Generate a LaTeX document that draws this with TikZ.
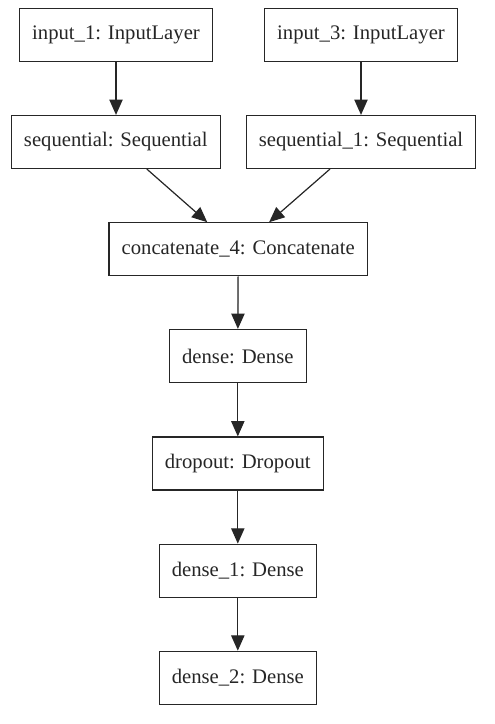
\documentclass[tikz,border=0pt]{standalone}
\usepackage{fontspec}
\setmainfont{Liberation Serif}
\usetikzlibrary{arrows.meta}

\begin{document}
\begin{tikzpicture}[x=0.75pt,y=-0.75pt,
      layer/.style={draw=black!85,line width=0.9pt,minimum height=39.75pt,inner xsep=9.5pt,
        text=black!85,font=\fontsize{15.5}{18}\selectfont},
      conn/.style={-{Triangle[length=11.5pt,width=10pt]},line width=0.9pt,draw=black!85,fill=black!85}]
      \useasboundingbox (0,0) rectangle (494,724);
      \node[layer] (in1) at (116,35) {input\_1: InputLayer};
      \node[layer] (in3) at (361,35) {input\_3: InputLayer};
      \node[layer] (seq) at (115.8,142) {sequential: Sequential};
      \node[layer] (seq1) at (361,142) {sequential\_1: Sequential};
      \node[layer] (cat) at (238.2,249.3) {concatenate\_4: Concatenate};
      \node[layer] (d0) at (237.8,356) {dense: Dense};
      \node[layer] (drop) at (237.8,463.5) {dropout: Dropout};
      \node[layer] (d1) at (237.8,570.7) {dense\_1: Dense};
      \node[layer] (d2) at (237.8,677.8) {dense\_2: Dense};
      \draw[conn] (in1.south) -- (in1.south |- seq.north);
      \draw[conn] (in3.south) -- (in3.south |- seq1.north);
      \draw[conn] ([xshift=23.3pt]seq.south) -- ([xshift=-23.2pt]cat.north);
      \draw[conn] ([xshift=-23.3pt]seq1.south) -- ([xshift=23.2pt]cat.north);
      \draw[conn] (cat) -- (d0);
      \draw[conn] (d0) -- (drop);
      \draw[conn] (drop) -- (d1);
      \draw[conn] (d1) -- (d2);
    \end{tikzpicture}
\end{document}
